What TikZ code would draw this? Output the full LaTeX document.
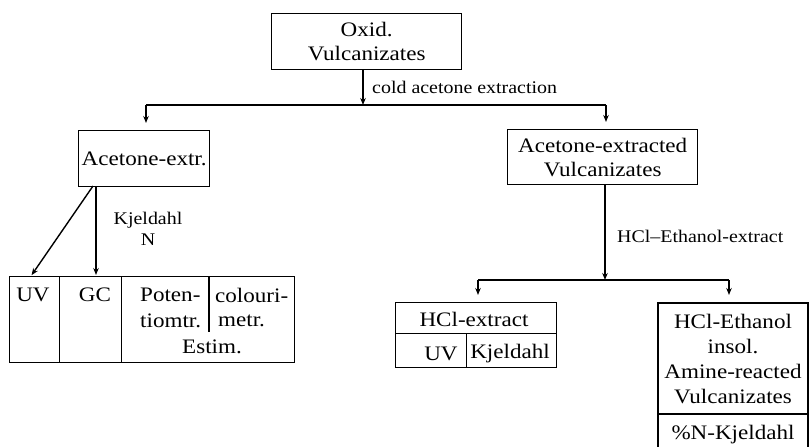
\documentclass[tikz,border=0pt]{standalone}
\usepackage{fontspec}
\setmainfont{Liberation Serif}[FakeStretch=1.12]
\usetikzlibrary{arrows.meta}
\begin{document}
\begin{tikzpicture}[x=1pt,y=-1pt,
  box/.style={draw,line width=1.4pt,inner sep=0pt,align=center,anchor=north west},
  big/.style={font=\fontsize{20.6}{24}\selectfont},
  small/.style={font=\fontsize{17.8}{21}\selectfont},
  txt/.style={inner sep=0pt,align=center},
  conn/.style={line width=1.4pt},
  arr/.style={conn,-{Stealth[length=7pt,width=5.5pt]}}]
\useasboundingbox (0,0) rectangle (809,447);
% main boxes
\node[box,big,minimum width=190pt,minimum height=56pt] (top) at (271,13) {Oxid.\\Vulcanizates};
\node[box,big,minimum width=131pt,minimum height=56pt] (acx) at (78,130) {Acetone-extr.};
\node[box,big,minimum width=190pt,minimum height=55pt] (acv) at (507,129) {Acetone-extracted\\Vulcanizates};
% first split
\coordinate (s1) at (363,105);
\coordinate (l1) at (146,105);
\coordinate (r1) at (606,105);
\draw[arr] (s1 |- top.south) -- (s1);
\node[txt,small,anchor=west] (lab1) at (372,87) {cold acetone extraction};
\draw[conn] (l1) -- (r1);
\draw[arr,shorten >=7pt] (l1) -- (l1 |- acx.north);
\draw[arr,shorten >=7pt] (r1) -- (r1 |- acv.north);
% left table
\node[box,minimum width=50pt,minimum height=86pt] (cuv) at (9,276) {};
\node[box,minimum width=62pt,minimum height=86pt] (cgc) at (59,276) {};
\node[box,minimum width=173pt,minimum height=86pt] (cest) at (121,276) {};
\coordinate (dv) at (209,332);
\draw[conn] (dv |- cest.north) -- (dv);
\node[txt,big] (tuv) at (33,295) {UV};
\node[txt,big] (tgc) at (95,295) {GC};
\node[txt,big,anchor=west] (tpo1) at (140,295) {Poten-};
\node[txt,big,anchor=west] (tpo2) at (140,321) {tiomtr.};
\node[txt,big,anchor=west] (tco1) at (215,295) {colouri-};
\node[txt,big,anchor=west] (tco2) at (218,321) {metr.};
\node[txt,big] (test) at (212,347) {Estim.};
% left arrows
\coordinate (d1) at (93,186);
\coordinate (d2) at (96,186);
\draw[arr,shorten >=1pt] (d1) -- (31,276);
\draw[arr,shorten >=1pt] (d2) -- (d2 |- cgc.north);
\node[txt,small] (kj) at (148,229) {Kjeldahl\\N};
% right branch
\coordinate (s2) at (605,280);
\coordinate (l2) at (478,280);
\coordinate (r2) at (729,280);
\draw[arr] (s2 |- acv.south) -- (s2);
\node[txt,small,anchor=west] (lab2) at (617,236) {HCl–Ethanol-extract};
\draw[conn] (l2) -- (r2);
% HCl-extract box
\node[box,minimum width=161pt,minimum height=31pt] (hcl) at (395,302) {};
\node[box,minimum width=71pt,minimum height=34pt] (huv) at (395,333) {};
\node[box,minimum width=90pt,minimum height=34pt] (hkj) at (466,333) {};
\node[txt,big] (thcl) at (474,319) {HCl-extract};
\node[txt,big] (thuv) at (441,354) {UV};
\node[txt,big] (thkj) at (510,354) {Kjeldahl};
\draw[arr,shorten >=7pt] (l2) -- (l2 |- hcl.north);
% right box (runs off the bottom)
\coordinate (rb1) at (658,447);
\coordinate (rb2) at (658,303);
\coordinate (rb3) at (808,303);
\coordinate (rb4) at (808,447);
\draw[conn] (rb1) -- (rb2) -- (rb3) -- (rb4);
\coordinate (rd1) at (658,414);
\coordinate (rd2) at (808,414);
\draw[conn] (rd1) -- (rd2);
\draw[arr,shorten >=8pt] (r2) -- (r2 |- rb2);
\node[txt,font=\fontsize{20.6}{25}\selectfont] (tins) at (733,359) {HCl-Ethanol\\insol.\\Amine-reacted\\Vulcanizates};
\node[txt,big] (tpn) at (733,435) {\%N-Kjeldahl};
\end{tikzpicture}
\end{document}
